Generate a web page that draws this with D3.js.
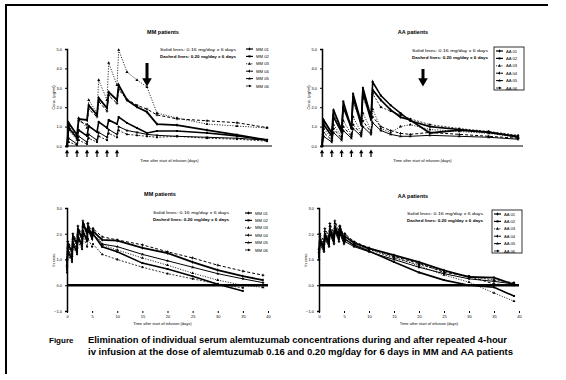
<!DOCTYPE html>
<html>
<head>
<meta charset="utf-8">
<script src="https://cdn.jsdelivr.net/npm/d3@7"></script>
<style>
  body { margin: 0; background: #fff; }
  text { font-family: "Liberation Sans", Arial, sans-serif; fill: #000; }
</style>
</head>
<body>
<svg id="fig" width="566" height="380"></svg>
<script>
// sampling times (days): during dosing and after
const tDose = [0, 0.17, 1, 1.17, 2, 2.17, 3, 3.17, 4, 4.17, 5, 5.17, 6, 7, 8, 9, 11, 14, 17, 20];
const tPost = [0, 0.17, 1, 1.17, 2, 2.17, 3, 3.17, 4, 4.17, 5, 5.17, 7, 10, 15, 20, 25, 30, 35, 39];
const infusionDays = [0, 1, 2, 3, 4, 5];
const mmArrowDay = 8;
const aaArrowDay = 10.3;

const mmNames = ["MM 01", "MM 02", "MM 03", "MM 04", "MM 05", "MM 06"];
const aaNames = ["AA 01", "AA 02", "AA 03", "AA 04", "AA 05", "AA 06"];

// serum conc. (ug/ml), top panels
const mmDose1 = [0, 1.19, 0.57, 1.39, 1.34, 2.11, 1.6, 2.47, 1.96, 2.78, 2.37, 3.14, 2.37, 2.01, 1.75, 1.13, 1.08, 0.82, 0.57, 0.31];
const mmDose2 = [0, 0.93, 0.41, 0.82, 0.52, 1.03, 0.72, 1.24, 0.93, 1.34, 1.13, 1.49, 1.19, 0.93, 0.67, 0.77, 0.77, 0.67, 0.52, 0.31];
const mmDose3 = [0, 0.82, 0.31, 1.44, 0.93, 2.37, 1.7, 3.4, 2.37, 4.28, 3.14, 4.95, 3.81, 3.4, 3.04, 1.7, 1.44, 1.13, 1.03, 0.93];
const mmDose4 = [0, 1.0, 0.5, 1.3, 1.1, 1.9, 1.5, 2.3, 1.8, 2.6, 2.2, 2.9, 2.4, 2.1, 1.9, 1.6, 1.4, 1.3, 1.2, 0.95];
const mmDose5 = [0, 0.4, 0.1, 0.5, 0.2, 0.6, 0.3, 0.7, 0.45, 0.85, 0.6, 1.0, 0.8, 0.7, 0.6, 0.55, 0.5, 0.45, 0.4, 0.3];
const mmDose6 = [0, 0.2, 0.05, 0.3, 0.1, 0.4, 0.2, 0.5, 0.3, 0.65, 0.45, 0.8, 0.6, 0.55, 0.5, 0.45, 0.5, 0.4, 0.35, 0.25];

const aaDose1 = [0, 1.34, 0.67, 1.86, 0.82, 2.01, 0.93, 2.53, 1.08, 2.78, 1.34, 2.89, 2.37, 1.86, 1.49, 1.34, 0.67, 0.82, 0.72, 0.46];
const aaDose2 = [0, 1.1, 0.5, 1.5, 0.7, 2.3, 0.9, 2.7, 1.2, 3.0, 1.5, 3.3, 2.6, 2.1, 1.7, 1.3, 1.0, 0.85, 0.7, 0.5];
const aaDose3 = [0, 0.9, 0.4, 1.1, 0.5, 1.3, 0.6, 1.5, 0.7, 1.7, 0.8, 1.9, 0.9, 0.7, 1.0, 1.1, 0.85, 0.75, 0.65, 0.45];
const aaDose4 = [0, 0.7, 0.3, 0.9, 0.4, 1.0, 0.5, 1.1, 0.6, 1.3, 0.7, 1.5, 1.0, 0.8, 0.65, 0.6, 0.7, 0.6, 0.5, 0.4];
const aaDose5 = [0, 0.5, 0.2, 0.7, 0.3, 0.8, 0.4, 0.9, 0.5, 1.0, 0.6, 1.2, 0.8, 0.6, 0.5, 0.5, 0.55, 0.5, 0.45, 0.35];
const aaDose6 = [0, 1.2, 0.6, 1.6, 0.9, 2.0, 1.1, 2.2, 1.3, 2.5, 1.5, 2.7, 2.0, 1.8, 1.6, 1.4, 1.1, 0.9, 0.75, 0.55];

// ln conc., bottom panels (null = not sampled)
const mmPost1 = [0.9, 1.6, 1.3, 1.9, 1.6, 2.2, 1.8, 2.43, 2.0, 2.3, 1.9, 2.1, 1.76, 1.73, 1.45, 1.25, 0.9, 0.59, 0.35, 0.2];
const mmPost2 = [0.6, 1.3, 1.0, 1.6, 1.3, 1.9, 1.5, 2.1, 1.7, 2.2, 1.8, 2.0, 1.49, 1.3, 0.86, 0.63, 0.35, 0.04, -0.22, null];
const mmPost3 = [0.8, 1.5, 1.2, 1.8, 1.5, 2.0, 1.7, 2.3, 1.9, 2.4, 2.0, 2.2, 1.57, 1.37, 1.06, 0.78, 0.47, 0.2, 0.0, -0.08];
const mmPost4 = [1.0, 1.7, 1.4, 2.0, 1.7, 2.3, 1.9, 2.5, 2.1, 2.4, 2.0, 2.2, 1.88, 1.76, 1.57, 1.3, 1.06, 0.78, 0.55, 0.39];
const mmPost5 = [0.7, 1.4, 1.1, 1.7, 1.4, 1.9, 1.6, 2.1, 1.8, 2.2, 1.9, 2.0, 1.6, 1.5, 1.2, 0.95, 0.7, 0.45, 0.25, 0.1];
const mmPost6 = [0.5, 1.2, 0.9, 1.5, 1.2, 1.7, 1.4, 1.9, 1.5, 1.8, 1.5, 1.6, 1.2, 1.0, 0.7, 0.45, 0.25, 0.05, -0.1, null];

const aaPost1 = [1.2, 1.8, 1.5, 2.0, 1.7, 2.2, 1.8, 2.3, 1.9, 2.25, 1.8, 1.9, 1.65, 1.43, 1.17, 0.9, 0.58, 0.32, 0.3, 0.03];
const aaPost2 = [1.1, 1.7, 1.4, 1.9, 1.6, 2.1, 1.7, 2.2, 1.8, 2.1, 1.7, 1.8, 1.55, 1.33, 0.9, 0.5, 0.2, 0.0, -0.08, -0.42];
const aaPost3 = [1.3, 1.9, 1.6, 2.1, 1.8, 2.3, 1.9, 2.4, 2.0, 2.3, 1.9, 2.0, 1.6, 1.4, 1.1, 0.75, 0.4, 0.12, -0.3, -0.62];
const aaPost4 = [1.4, 2.0, 1.7, 2.2, 1.9, 2.4, 2.0, 2.5, 2.1, 2.3, 1.9, 2.0, 1.7, 1.45, 1.12, 0.85, 0.5, 0.35, 0.05, 0.0];
const aaPost5 = [1.0, 1.6, 1.3, 1.8, 1.5, 2.0, 1.6, 2.1, 1.7, 2.0, 1.6, 1.7, 1.5, 1.3, 1.0, 0.7, 0.45, 0.25, 0.15, 0.05];
const aaPost6 = [1.2, 1.7, 1.5, 1.9, 1.7, 2.1, 1.8, 2.2, 1.9, 2.1, 1.8, 1.9, 1.6, 1.4, 1.05, 0.8, 0.55, 0.35, 0.2, 0.1];

const doseTicks = [0, 1, 2, 3, 4, 5];
const postTicksY = [-1, 0, 1, 2, 3];
const postTicksX = [0, 5, 10, 15, 20, 25, 30, 35, 40];

const noteLines = ["Solid lines: 0.16 mg/day x 6 days", "Dashed lines: 0.20 mg/day x 6 days"];

// line looks per patient index
const looks = [
  { w: 1.8, dash: null, sym: d3.symbolDiamond },
  { w: 1.6, dash: null, sym: d3.symbolSquare },
  { w: 0.8, dash: "1.2,1.4", sym: d3.symbolTriangle },
  { w: 1.0, dash: "3,2", sym: d3.symbolCross },
  { w: 1.0, dash: null, sym: d3.symbolStar },
  { w: 0.8, dash: "2,1.5", sym: d3.symbolCircle }
];

const svg = d3.select("#fig");

// frame of the scanned page
svg.append("line").attr("x1", 5).attr("x2", 548).attr("y1", 5).attr("y2", 5)
  .attr("stroke", "#000").attr("stroke-width", 2);
svg.append("line").attr("x1", 6).attr("x2", 6).attr("y1", 5).attr("y2", 374)
  .attr("stroke", "#000").attr("stroke-width", 2);

function panel(p) {
  const g = svg.append("g");
  const x = d3.scaleLinear().domain(p.xDomain).range([p.left, p.right]);
  const y = d3.scaleLinear().domain(p.yDomain).range([p.bottom, p.top]);

  // title
  g.append("text").attr("x", p.titleX).attr("y", p.titleY).attr("text-anchor", "middle")
    .attr("font-size", 5.5).attr("font-weight", "bold").text(p.title);

  // y axis
  const ya = g.append("g").attr("transform", "translate(" + p.left + ",0)")
    .call(d3.axisLeft(y).tickValues(p.yTicks).tickSize(2).tickPadding(3));
  ya.select(".domain").attr("stroke-width", 1.5);
  ya.selectAll("text").attr("font-size", 4).style("font-family", "Liberation Sans");

  g.append("text").attr("transform", "translate(" + (p.left - 12) + "," + ((p.top + p.bottom) / 2) + ") rotate(-90)")
    .attr("text-anchor", "middle").attr("font-size", 4).text(p.yTitle);

  // x axis line at value 0
  g.append("line").attr("x1", p.left).attr("x2", p.right)
    .attr("y1", y(0)).attr("y2", y(0)).attr("stroke", "#000").attr("stroke-width", p.zeroW);

  // x tick labels at the bottom
  const xa = g.append("g").attr("transform", "translate(0," + p.bottom + ")")
    .call(d3.axisBottom(x).tickValues(p.xTicks).tickSize(p.xTickSize).tickPadding(2));
  xa.select(".domain").remove();
  xa.selectAll("text").attr("font-size", 4).style("font-family", "Liberation Sans");

  g.append("text").attr("x", (p.left + p.right) / 2 + p.xTitleDx).attr("y", p.xTitleY)
    .attr("text-anchor", "middle").attr("font-size", 4).text(p.xTitle);

  // infusion markers
  if (p.infusions) {
    p.infusions.forEach(d => {
      g.append("line").attr("x1", x(d)).attr("x2", x(d)).attr("y1", p.bottom + 5).attr("y2", p.bottom + 11)
        .attr("stroke", "#000").attr("stroke-width", 1.2);
      g.append("path").attr("d", d3.symbol(d3.symbolTriangle, 8)())
        .attr("transform", "translate(" + x(d) + "," + (p.bottom + 6) + ")");
    });
  }

  // big arrow
  if (p.arrowDay != null) {
    const ax = x(p.arrowDay);
    g.append("line").attr("x1", ax).attr("x2", ax).attr("y1", p.arrowY0).attr("y2", p.arrowY1 - 5)
      .attr("stroke", "#000").attr("stroke-width", 3);
    g.append("path").attr("d", d3.symbol(d3.symbolTriangle, 40)())
      .attr("transform", "translate(" + ax + "," + (p.arrowY1 - 3) + ") rotate(180)");
  }

  // series
  const line = d3.line().defined(d => d[1] != null).x(d => x(d[0])).y(d => y(d[1]));
  p.series.forEach((vals, i) => {
    const pts = vals.map((v, k) => [p.times[k], v]);
    const lk = looks[i];
    g.append("path").datum(pts).attr("d", line).attr("fill", "none")
      .attr("stroke", "#000").attr("stroke-width", lk.w)
      .attr("stroke-dasharray", lk.dash);
    g.selectAll(null).data(pts.filter(d => d[1] != null)).join("path")
      .attr("d", d3.symbol(lk.sym, 4)())
      .attr("transform", d => "translate(" + x(d[0]) + "," + y(d[1]) + ")");
  });

  // notes
  noteLines.forEach((t, i) => {
    g.append("text").attr("x", p.noteX).attr("y", p.noteY + i * 7).attr("font-size", 4.2)
      .attr("font-weight", i === 1 ? "bold" : "normal")
      .attr("textLength", 76).attr("lengthAdjust", "spacingAndGlyphs").text(t);
  });

  // legend
  const lg = g.append("g");
  if (p.legendBox) {
    lg.append("rect").attr("x", p.legX - 2).attr("y", p.legY - 4).attr("width", 30).attr("height", 43)
      .attr("fill", "none").attr("stroke", "#000").attr("stroke-width", 0.8);
  }
  p.names.forEach((n, i) => {
    const ly = p.legY + i * 7.4;
    const lk = looks[i];
    lg.append("line").attr("x1", p.legX).attr("x2", p.legX + 7).attr("y1", ly).attr("y2", ly)
      .attr("stroke", "#000").attr("stroke-width", Math.min(lk.w, 1.2)).attr("stroke-dasharray", lk.dash);
    lg.append("path").attr("d", d3.symbol(lk.sym, 4)()).attr("transform", "translate(" + (p.legX + 3.5) + "," + ly + ")");
    lg.append("text").attr("x", p.legX + 10).attr("y", ly + 1.5).attr("font-size", 4.2).text(n);
  });
}

panel({
  title: "MM patients", titleX: 163, titleY: 34,
  left: 67, right: 272, top: 49, bottom: 146,
  xDomain: [0, 20.5], yDomain: [0, 5], yTicks: doseTicks, xTicks: [],
  xTickSize: 0, zeroW: 1, xTitle: "Time after start of infusion (days)", xTitleY: 162, xTitleDx: 0,
  yTitle: "Conc. (\u00b5g/ml)", times: tDose, infusions: infusionDays,
  arrowDay: mmArrowDay, arrowY0: 63, arrowY1: 84,
  series: [mmDose1, mmDose2, mmDose3, mmDose4, mmDose5, mmDose6], names: mmNames,
  noteX: 160, noteY: 51, legX: 246, legY: 49, legendBox: false
});

panel({
  title: "AA patients", titleX: 413, titleY: 34,
  left: 322, right: 523, top: 49, bottom: 146,
  xDomain: [0, 20.5], yDomain: [0, 5], yTicks: doseTicks, xTicks: [],
  xTickSize: 0, zeroW: 1, xTitle: "Time after start of infusion (days)", xTitleY: 162, xTitleDx: 0,
  yTitle: "Conc. (\u00b5g/ml)", times: tDose, infusions: infusionDays,
  arrowDay: aaArrowDay, arrowY0: 69, arrowY1: 84,
  series: [aaDose1, aaDose2, aaDose3, aaDose4, aaDose5, aaDose6], names: aaNames,
  noteX: 412, noteY: 52, legX: 496, legY: 51, legendBox: true
});

panel({
  title: "MM patients", titleX: 160, titleY: 196,
  left: 67, right: 268, top: 208, bottom: 311,
  xDomain: [0, 40], yDomain: [-1, 3], yTicks: postTicksY, xTicks: postTicksX,
  xTickSize: 2, zeroW: 2.5, xTitle: "Time after start of infusion (days)", xTitleY: 325, xTitleDx: -5,
  yTitle: "ln conc.", times: tPost, infusions: null, arrowDay: null,
  series: [mmPost1, mmPost2, mmPost3, mmPost4, mmPost5, mmPost6], names: mmNames,
  noteX: 153, noteY: 214, legX: 245, legY: 213, legendBox: false
});

panel({
  title: "AA patients", titleX: 413, titleY: 198,
  left: 319, right: 519, top: 208, bottom: 311,
  xDomain: [0, 40], yDomain: [-1, 3], yTicks: postTicksY, xTicks: postTicksX,
  xTickSize: 2, zeroW: 2.5, xTitle: "Time after start of infusion (days)", xTitleY: 325, xTitleDx: 10,
  yTitle: "ln conc.", times: tPost, infusions: null, arrowDay: null,
  series: [aaPost1, aaPost2, aaPost3, aaPost4, aaPost5, aaPost6], names: aaNames,
  noteX: 407, noteY: 215, legX: 494, legY: 214, legendBox: true
});

// caption
svg.append("text").attr("x", 49).attr("y", 343).attr("font-size", 8).attr("font-weight", "bold").text("Figure");
svg.append("text").attr("x", 88).attr("y", 343).attr("font-size", 8.3).attr("font-weight", "bold")
  .attr("textLength", 419).attr("lengthAdjust", "spacingAndGlyphs")
  .text("Elimination of individual serum alemtuzumab concentrations during and after repeated 4-hour");
svg.append("text").attr("x", 88).attr("y", 355).attr("font-size", 8.3).attr("font-weight", "bold")
  .attr("textLength", 425).attr("lengthAdjust", "spacingAndGlyphs")
  .text("iv infusion at the dose of alemtuzumab 0.16 and 0.20 mg/day for 6 days in MM and AA patients");
</script>
</body>
</html>
